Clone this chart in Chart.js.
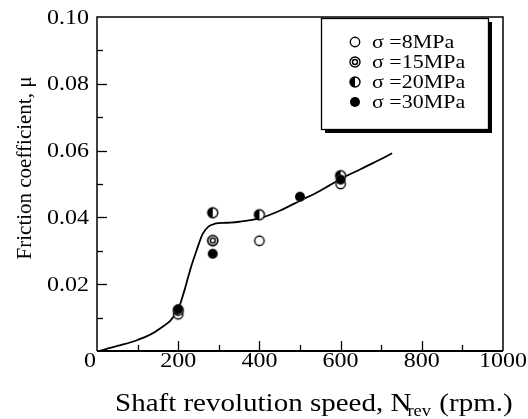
<!DOCTYPE html>
<html>
<head>
<meta charset="utf-8">
<script src="https://cdn.jsdelivr.net/npm/chart.js@4.4.1/dist/chart.umd.min.js"></script>
<style>
  html, body { margin: 0; padding: 0; background: #fff; }
  #wrap { width: 528px; height: 419px; }
</style>
</head>
<body>
<div id="wrap"><canvas id="c" width="528" height="419"></canvas></div>
<script>
// Measured friction coefficient for each contact pressure
const rpm8  = [200, 285, 400, 600];
const mu8   = [0.011, 0.033, 0.033, 0.050];
const rpm15 = [285];
const mu15  = [0.0331];
const rpm20 = [200, 285, 400, 600];
const mu20  = [0.0122, 0.0414, 0.0408, 0.0525];
const rpm30 = [200, 285, 500, 600];
const mu30  = [0.0125, 0.0291, 0.0462, 0.0513];

// Fitted trend curve
const curveRpm = [5, 50, 100, 150, 200, 215, 230, 245, 260, 275, 290, 320, 350, 400, 450, 500, 550, 600, 650, 700, 727];
const curveMu  = [0, 0.0015, 0.0033, 0.0063, 0.0125, 0.018, 0.0245, 0.030, 0.0350, 0.0373, 0.0381, 0.0384, 0.0387, 0.0397, 0.042, 0.045, 0.048, 0.0515, 0.0545, 0.0575, 0.0592];

const seriesLabels = ['σ =8MPa', 'σ =15MPa', 'σ =20MPa', 'σ =30MPa'];
const xTickValues = [0, 200, 400, 600, 800, 1000];
const yTickValues = [0.02, 0.04, 0.06, 0.08, 0.10];

const SERIF = "'Liberation Serif', 'Times New Roman', serif";

// Serif text, slightly widened like the printed figure
function wideText(ctx, text, x, y, size, stretch, align) {
  ctx.save();
  ctx.font = size + 'px ' + SERIF;
  const w = ctx.measureText(text).width * stretch;
  let left = x;
  if (align === 'center') left = x - w / 2;
  else if (align === 'right') left = x - w;
  ctx.translate(left, y);
  ctx.scale(stretch, 1);
  ctx.textAlign = 'left';
  ctx.fillText(text, 0, 0);
  ctx.restore();
  return w;
}

// Marker glyphs drawn onto small canvases
function marker(kind, r) {
  const s = Math.ceil(r * 2 + 4);
  const c = document.createElement('canvas');
  c.width = s; c.height = s;
  const g = c.getContext('2d');
  const cx = s / 2, cy = s / 2;
  g.lineWidth = 1.4;
  g.strokeStyle = '#000';
  g.fillStyle = '#fff';
  g.beginPath(); g.arc(cx, cy, r, 0, Math.PI * 2); g.fill();
  if (kind === 'filled') {
    g.fillStyle = '#000';
    g.beginPath(); g.arc(cx, cy, r, 0, Math.PI * 2); g.fill();
  } else if (kind === 'half') {
    g.fillStyle = '#000';
    g.beginPath(); g.arc(cx, cy, r, Math.PI / 2, Math.PI * 1.5); g.closePath(); g.fill();
    g.beginPath(); g.arc(cx, cy, r, 0, Math.PI * 2); g.stroke();
  } else if (kind === 'ring') {
    g.beginPath(); g.arc(cx, cy, r, 0, Math.PI * 2); g.stroke();
    g.beginPath(); g.arc(cx, cy, r * 0.5, 0, Math.PI * 2); g.stroke();
  } else {
    g.beginPath(); g.arc(cx, cy, r - 0.3, 0, Math.PI * 2); g.stroke();
  }
  return c;
}
const kinds = ['open', 'ring', 'half', 'filled'];
const plotMarkers = kinds.map(k => marker(k, 5));
const legendMarkers = kinds.map(k => marker(k, 5));

const pts = (xs, ys) => xs.map((x, i) => ({ x: x, y: ys[i] }));

const frame = {
  id: 'frame',
  afterDraw(chart) {
    const ctx = chart.ctx;
    const a = chart.chartArea;
    const xs = chart.scales.x, ys = chart.scales.y;
    ctx.save();
    ctx.strokeStyle = '#000';
    ctx.fillStyle = '#000';
    // box
    ctx.lineWidth = 1.5;
    ctx.beginPath();
    ctx.moveTo(a.left, a.bottom); ctx.lineTo(a.left, a.top); ctx.lineTo(a.right, a.top); ctx.lineTo(a.right, a.bottom);
    ctx.stroke();
    ctx.lineWidth = 2;
    ctx.beginPath(); ctx.moveTo(a.left, a.bottom); ctx.lineTo(a.right, a.bottom); ctx.stroke();
    // inward ticks
    ctx.lineWidth = 1.3;
    for (let v = 100; v < 1000; v += 100) {
      const px = Math.round(xs.getPixelForValue(v)) + 0.5;
      const len = (v % 200 === 0) ? 10 : 6;
      ctx.beginPath(); ctx.moveTo(px, a.bottom); ctx.lineTo(px, a.bottom - len); ctx.stroke();
    }
    for (let k = 1; k < 10; k++) {
      const py = Math.round(ys.getPixelForValue(k / 100)) + 0.5;
      const len = (k % 2 === 0) ? 10 : 6;
      ctx.beginPath(); ctx.moveTo(a.left, py); ctx.lineTo(a.left + len, py); ctx.stroke();
    }

    // tick labels
    ctx.textBaseline = 'alphabetic';
    xTickValues.forEach(v => {
      const px = xs.getPixelForValue(v) - (v === 0 ? 7 : 0);
      wideText(ctx, String(v), px, 367, 20, 1.2, 'center');
    });
    yTickValues.forEach(v => {
      const py = ys.getPixelForValue(v);
      wideText(ctx, v.toFixed(2), 89, py + 6.5, 20, 1.2, 'right');
    });

    // axis titles
    const base = 411;
    let x = 115;
    x += wideText(ctx, 'Shaft revolution speed, N', x, base, 25, 1.16, 'left') - 4;
    x += wideText(ctx, 'rev', x, base + 5, 16, 1.16, 'left') + 1;
    wideText(ctx, ' (rpm.)', x, base, 25, 1.16, 'left');

    ctx.save();
    ctx.translate(31, 168);
    ctx.rotate(-Math.PI / 2);
    ctx.font = '21px ' + SERIF;
    ctx.textAlign = 'center';
    ctx.fillText('Friction coefficient, μ', 0, 0);
    ctx.restore();

    // legend box with drop shadow
    const L = 321, T = 18, R = 488, B = 129;
    ctx.fillStyle = '#000';
    ctx.fillRect(L + 4, T + 4, R - L, B - T);
    ctx.fillStyle = '#fff';
    ctx.fillRect(L, T, R - L, B - T);
    ctx.lineWidth = 1.3;
    ctx.strokeRect(L + 0.5, T + 0.5, R - L, B - T);
    const rows = [42, 62, 82, 102];
    ctx.fillStyle = '#000';
    rows.forEach((ry, i) => {
      const m = legendMarkers[i];
      ctx.drawImage(m, 355 - m.width / 2, ry - m.height / 2);
      wideText(ctx, seriesLabels[i], 372, ry + 6, 18, 1.22, 'left');
    });
    ctx.restore();
  }
};

new Chart(document.getElementById('c'), {
  type: 'scatter',
  data: {
    datasets: [
      { label: seriesLabels[0], data: pts(rpm8, mu8), pointStyle: plotMarkers[0], order: 4 },
      { label: seriesLabels[1], data: pts(rpm15, mu15), pointStyle: plotMarkers[1], order: 3 },
      { label: seriesLabels[2], data: pts(rpm20, mu20), pointStyle: plotMarkers[2], order: 2 },
      { label: seriesLabels[3], data: pts(rpm30, mu30), pointStyle: plotMarkers[3], order: 1 },
      { label: 'fit', data: pts(curveRpm, curveMu), showLine: true, pointRadius: 0,
        borderColor: '#000', borderWidth: 1.8, cubicInterpolationMode: 'monotone', order: 10 }
    ]
  },
  options: {
    responsive: false,
    animation: false,
    events: [],
    layout: { padding: { top: 17, right: 25, left: 0, bottom: 0 } },
    plugins: { legend: { display: false }, tooltip: { enabled: false } },
    scales: {
      x: {
        type: 'linear', min: 0, max: 1000,
        afterFit(s) { s.height = 68; },
        afterBuildTicks(s) { s.ticks = xTickValues.map(v => ({ value: v })); },
        grid: { display: false, drawTicks: false },
        border: { display: false },
        ticks: { display: false }
      },
      y: {
        type: 'linear', min: 0, max: 0.1,
        afterFit(s) { s.width = 97; },
        afterBuildTicks(s) { s.ticks = yTickValues.map(v => ({ value: v })); },
        grid: { display: false, drawTicks: false },
        border: { display: false },
        ticks: { display: false }
      }
    }
  },
  plugins: [frame]
});
</script>
</body>
</html>
